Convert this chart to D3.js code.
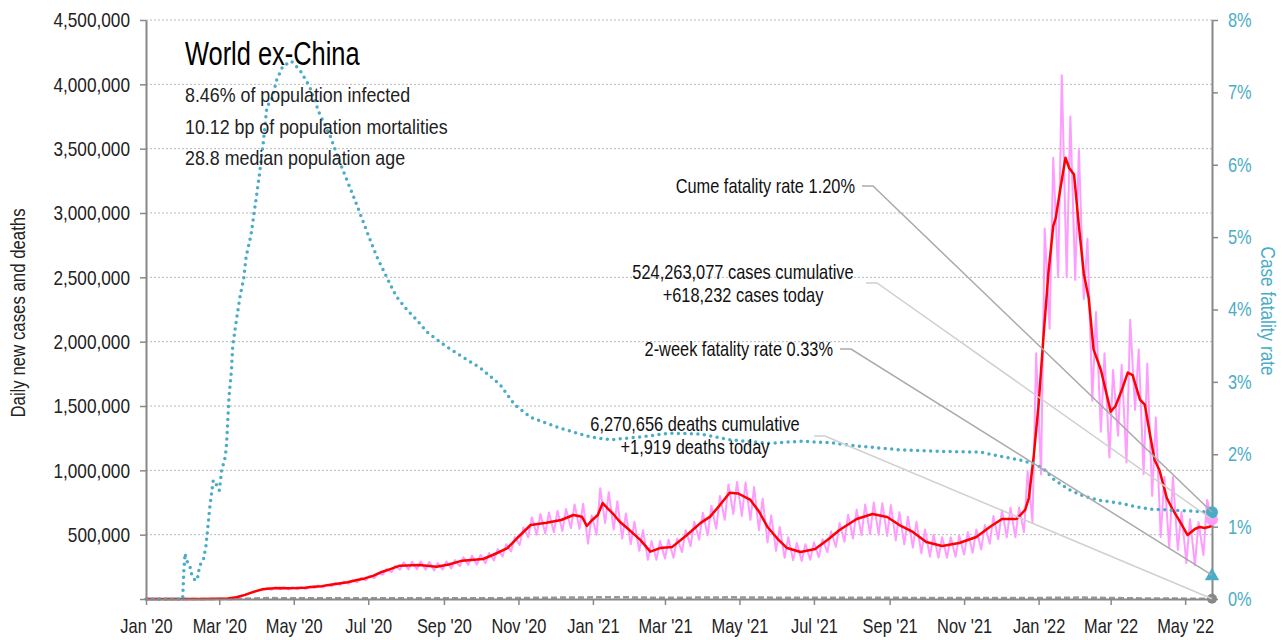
<!DOCTYPE html>
<html>
<head>
<meta charset="utf-8">
<script src="https://cdn.jsdelivr.net/npm/d3@7"></script>
<style>
    body { margin: 0; background: #fff; }
    svg text { font-family: "Liberation Sans", Arial, sans-serif; }
</style>
</head>
<body>
<script>
//Chart data

//7-day average of daily new cases (thousands)
var redAvg = [
    ["2020-01-01", 0], ["2020-02-15", 0.5], ["2020-03-01", 2], ["2020-03-08", 4], ["2020-03-15", 14],
    ["2020-03-22", 32], ["2020-03-29", 55], ["2020-04-05", 75], ["2020-04-12", 82], ["2020-04-19", 85],
    ["2020-04-26", 84], ["2020-05-03", 85], ["2020-05-10", 88], ["2020-05-17", 95], ["2020-05-24", 100],
    ["2020-05-31", 110], ["2020-06-07", 120], ["2020-06-14", 130], ["2020-06-21", 145], ["2020-06-28", 160],
    ["2020-07-05", 180], ["2020-07-12", 210], ["2020-07-19", 232], ["2020-07-27", 259], ["2020-08-12", 264],
    ["2020-08-26", 251], ["2020-09-05", 268], ["2020-09-16", 298], ["2020-10-03", 311], ["2020-10-11", 342],
    ["2020-10-23", 396], ["2020-10-31", 474], ["2020-11-11", 575], ["2020-11-24", 593], ["2020-12-06", 614],
    ["2020-12-16", 653], ["2020-12-23", 640], ["2020-12-27", 567], ["2020-12-31", 610], ["2021-01-05", 653],
    ["2021-01-09", 746], ["2021-01-13", 705], ["2021-01-17", 668], ["2021-01-23", 600], ["2021-01-29", 552],
    ["2021-02-04", 500], ["2021-02-09", 458], ["2021-02-17", 368], ["2021-02-25", 396], ["2021-03-07", 405],
    ["2021-03-19", 497], ["2021-03-30", 590], ["2021-04-07", 640], ["2021-04-15", 730], ["2021-04-23", 826],
    ["2021-04-30", 820], ["2021-05-10", 770], ["2021-05-17", 680], ["2021-05-24", 560], ["2021-06-01", 470],
    ["2021-06-09", 396], ["2021-06-20", 365], ["2021-07-02", 389], ["2021-07-12", 458], ["2021-07-22", 536],
    ["2021-08-05", 622], ["2021-08-18", 661], ["2021-08-30", 637], ["2021-09-09", 575], ["2021-09-20", 521],
    ["2021-10-01", 443], ["2021-10-14", 412], ["2021-10-28", 435], ["2021-11-11", 482], ["2021-11-22", 560],
    ["2021-12-02", 622], ["2021-12-14", 622], ["2021-12-21", 692], ["2021-12-24", 785], ["2021-12-28", 1110],
    ["2022-01-01", 1510], ["2022-01-05", 2040], ["2022-01-09", 2530], ["2022-01-13", 2900], ["2022-01-15", 2960],
    ["2022-01-19", 3200], ["2022-01-23", 3430], ["2022-01-26", 3350], ["2022-01-30", 3300], ["2022-02-03", 2900],
    ["2022-02-07", 2530], ["2022-02-11", 2340], ["2022-02-15", 1940], ["2022-02-21", 1780], ["2022-02-27", 1540],
    ["2022-03-01", 1456], ["2022-03-05", 1500], ["2022-03-10", 1620], ["2022-03-15", 1760], ["2022-03-19", 1740],
    ["2022-03-25", 1550], ["2022-03-29", 1510], ["2022-04-02", 1290], ["2022-04-06", 1080], ["2022-04-10", 1000],
    ["2022-04-16", 785], ["2022-04-21", 692], ["2022-04-27", 598], ["2022-05-03", 497], ["2022-05-09", 544],
    ["2022-05-13", 560], ["2022-05-17", 552], ["2022-05-23", 567]
];

//daily new cases (thousands): weekly low (Monday) and weekly high (Thursday), from the week of 6 Jan 2020
var pinkWeekStart = "2020-01-06";
var pinkLows = [
    0, 0, 0, 0, 0.1, 0.2, 0.3, 0.8,
    1.5, 4, 14, 32, 55, 68, 72, 75, 74, 76, 78, 85, 90, 98, 108, 118, 130, 145, 162, 188, 208, 228,
    230, 232, 228, 222, 228, 238, 255, 265, 268, 278, 300, 330, 370, 420, 480, 500, 510, 518, 528, 550,
    545, 430, 500, 590, 540, 470, 425, 375, 305, 305, 315, 320, 365, 410, 460, 495, 545, 615, 660, 645,
    615, 535, 440, 375, 320, 300, 295, 305, 325, 365, 405, 445, 470, 495, 505, 500, 490, 455, 425, 400,
    355, 330, 320, 320, 328, 345, 360, 385, 430, 465, 480, 480, 520, 598, 970, 2100, 2500, 2500, 2480, 2330,
    1540, 1300, 1100, 1270, 1060, 1470, 970, 800, 482, 396, 381, 280, 264, 342, 618
];
var pinkHighs = [
    0, 0, 0, 0, 0.2, 0.3, 0.5, 1.2,
    2.5, 7, 22, 45, 68, 85, 92, 92, 92, 94, 97, 105, 112, 124, 135, 146, 163, 180, 200, 232, 258, 285,
    290, 292, 288, 280, 292, 302, 325, 338, 342, 358, 388, 425, 480, 555, 635, 660, 672, 685, 700, 735,
    740, 650, 860, 830, 760, 665, 600, 535, 450, 450, 460, 470, 535, 600, 670, 725, 800, 890, 910, 905,
    870, 780, 650, 560, 480, 435, 425, 440, 465, 525, 590, 655, 695, 735, 750, 745, 730, 675, 640, 600,
    540, 500, 480, 480, 492, 520, 540, 575, 645, 690, 710, 712, 990, 1910, 2880, 3430, 4070, 3750, 3490, 2800,
    2230, 1910, 1780, 1820, 2170, 1940, 1830, 1410, 948, 948, 676, 622, 598, 770
];

//daily deaths (thousands)
var deaths = [
    ["2020-01-01", 0], ["2020-03-15", 1], ["2020-04-10", 7], ["2020-05-15", 5], ["2020-07-15", 5],
    ["2020-08-15", 6], ["2020-10-15", 6], ["2020-11-25", 10], ["2021-01-20", 14], ["2021-03-01", 9],
    ["2021-04-25", 13], ["2021-06-15", 9], ["2021-08-25", 10], ["2021-10-15", 7], ["2021-12-15", 7],
    ["2022-02-05", 11], ["2022-03-20", 5], ["2022-05-23", 1.919]
];

//cumulative case fatality rate (%)
var cfr = [
    ["2020-01-01", 0], ["2020-01-31", 0], ["2020-02-01", 0.4], ["2020-02-02", 0.63], ["2020-02-03", 0.54],
    ["2020-02-06", 0.45], ["2020-02-07", 0.36], ["2020-02-10", 0.26], ["2020-02-12", 0.26], ["2020-02-13", 0.38],
    ["2020-02-15", 0.5], ["2020-02-17", 0.54], ["2020-02-19", 0.72], ["2020-02-21", 1.05], ["2020-02-22", 1.23],
    ["2020-02-24", 1.5], ["2020-02-25", 1.63], ["2020-02-27", 1.63], ["2020-02-28", 1.55], ["2020-03-01", 1.5],
    ["2020-03-03", 1.78], ["2020-03-06", 1.97], ["2020-03-07", 2.15], ["2020-03-08", 2.47], ["2020-03-09", 2.8],
    ["2020-03-11", 3.16], ["2020-03-12", 3.49], ["2020-03-15", 3.85], ["2020-03-18", 4.18], ["2020-03-21", 4.43],
    ["2020-03-23", 4.73], ["2020-03-27", 5.03], ["2020-03-31", 5.51], ["2020-04-03", 5.88], ["2020-04-06", 6.3],
    ["2020-04-09", 6.8], ["2020-04-13", 6.9], ["2020-04-17", 7.17], ["2020-04-22", 7.36], ["2020-04-29", 7.43],
    ["2020-05-06", 7.31], ["2020-05-14", 7.08], ["2020-05-22", 6.71], ["2020-05-31", 6.39], ["2020-06-08", 6.02],
    ["2020-06-19", 5.56], ["2020-07-01", 5.03], ["2020-07-08", 4.73], ["2020-07-16", 4.45], ["2020-07-24", 4.18],
    ["2020-08-02", 3.99], ["2020-08-10", 3.85], ["2020-08-18", 3.69], ["2020-09-02", 3.5], ["2020-09-14", 3.37],
    ["2020-10-01", 3.19], ["2020-10-17", 2.96], ["2020-10-29", 2.68], ["2020-11-11", 2.51], ["2020-12-05", 2.36],
    ["2020-12-30", 2.24], ["2021-01-15", 2.2], ["2021-02-09", 2.24], ["2021-03-05", 2.29], ["2021-03-30", 2.28],
    ["2021-04-23", 2.2], ["2021-05-26", 2.15], ["2021-06-20", 2.18], ["2021-07-14", 2.16], ["2021-08-08", 2.11],
    ["2021-09-10", 2.06], ["2021-10-13", 2.04], ["2021-11-14", 2.03], ["2021-12-01", 1.97], ["2021-12-17", 1.92],
    ["2021-12-28", 1.87], ["2022-01-05", 1.8], ["2022-01-13", 1.66], ["2022-01-25", 1.52], ["2022-02-07", 1.42],
    ["2022-02-21", 1.36], ["2022-03-07", 1.33], ["2022-03-20", 1.28], ["2022-04-03", 1.24], ["2022-04-17", 1.23],
    ["2022-04-30", 1.22], ["2022-05-23", 1.2]
];

var twoWeekCfr = 0.33; //last value of the 2-week fatality rate (%)

//tick values
var leftTicks = [0, 500000, 1000000, 1500000, 2000000, 2500000, 3000000, 3500000, 4000000, 4500000];
var rightTicks = [0, 1, 2, 3, 4, 5, 6, 7, 8];

//texts
var title = "World ex-China";
var subtitles = ["8.46% of population infected", "10.12 bp of population mortalities", "28.8 median population age"];

//set up the svg dimensions and margins
var margin = {
        top: 20,
        right: 76,
        bottom: 41,
        left: 146
    },
    width = 1288 - margin.left - margin.right,
    height = 640 - margin.top - margin.bottom;

var blue = "#4bacc6";
var narrowX = 0.82; //squeeze Liberation Sans into a narrow face
var parse = d3.timeParse("%Y-%m-%d");

var svg = d3.select("body").append("svg")
    .attr("width", width + margin.left + margin.right)
    .attr("height", height + margin.top + margin.bottom)
    .append("g")
    .attr("transform", "translate(" + margin.left + "," + margin.top + ")");

//squeeze text horizontally, keeping its anchor point in place
function narrow(sel, sx) {
    sel.each(function() {
        var t = d3.select(this);
        var x = +t.attr("x") || 0;
        t.attr("x", x / sx);
        t.attr("transform", (t.attr("transform") || "") + " scale(" + sx + ",1)");
        t.selectAll("tspan").each(function() {
            var s = d3.select(this);
            if (s.attr("x") !== null) s.attr("x", +s.attr("x") / sx);
        });
    });
}

//scales
var firstDate = parse("2020-01-01");
var lastDate = parse(redAvg[redAvg.length - 1][0]);

var xScale = d3.scaleTime()
    .domain([firstDate, lastDate])
    .range([0, width]);

var yScale = d3.scaleLinear()
    .domain([0, 4500000])
    .range([height, 0]);

var yRight = d3.scaleLinear()
    .domain([0, 8])
    .range([height, 0]);

//build the daily cases zigzag from the weekly lows and highs
var pinkDaily = [];
var weekStart = parse(pinkWeekStart);
pinkLows.forEach(function(v, i) {
    var monday = d3.timeDay.offset(weekStart, 7 * i);
    pinkDaily.push([monday, v]);
    if (pinkHighs[i] !== undefined)
        pinkDaily.push([d3.timeDay.offset(monday, 3), pinkHighs[i]]);
});

//horizontal dotted grid
svg.append("g")
    .attr("class", "grid")
    .selectAll("line")
    .data(leftTicks.filter(function(t) { return t > 0; }))
    .enter().append("line")
    .attr("x1", 0)
    .attr("x2", width)
    .attr("y1", function(d) { return yScale(d); })
    .attr("y2", function(d) { return yScale(d); })
    .attr("stroke", "#b8b8b8")
    .attr("stroke-width", 1)
    .attr("stroke-dasharray", "2,2");

//line generators
var caseLine = d3.line()
    .x(function(d) { return xScale(d[0]); })
    .y(function(d) { return yScale(d[1] * 1000); });

var cfrLine = d3.line()
    .x(function(d) { return xScale(parse(d[0])); })
    .y(function(d) { return yRight(d[1]); });

var dated = function(arr) {
    return arr.map(function(d) { return [parse(d[0]), d[1]]; });
};

//deaths (grey dashed, hugging the bottom)
svg.append("path")
    .datum(dated(deaths))
    .attr("fill", "none")
    .attr("stroke", "#999")
    .attr("stroke-width", 2.5)
    .attr("stroke-dasharray", "6,3")
    .attr("d", caseLine);

//daily cases
svg.append("path")
    .datum(pinkDaily)
    .attr("fill", "none")
    .attr("stroke", "#ff9cff")
    .attr("stroke-width", 2)
    .attr("stroke-linejoin", "round")
    .attr("d", caseLine);

//7-day average
svg.append("path")
    .datum(dated(redAvg))
    .attr("fill", "none")
    .attr("stroke", "#ff0000")
    .attr("stroke-width", 2.5)
    .attr("stroke-linejoin", "round")
    .attr("d", caseLine);

//case fatality rate, dotted
svg.append("path")
    .datum(cfr)
    .attr("fill", "none")
    .attr("stroke", blue)
    .attr("stroke-width", 3.5)
    .attr("stroke-linecap", "round")
    .attr("stroke-dasharray", "0,6.5")
    .attr("d", cfrLine);

//axes
var fmt = d3.format(",");

var xAxis = svg.append("g")
    .attr("transform", "translate(0," + height + ")")
    .call(d3.axisBottom(xScale)
        .ticks(d3.timeMonth.every(2))
        .tickFormat(d3.timeFormat("%b '%y"))
        .tickSize(6)
        .tickSizeOuter(0)
        .tickPadding(14));

var yAxis = svg.append("g")
    .call(d3.axisLeft(yScale)
        .tickValues(leftTicks)
        .tickFormat(function(d) { return d === 0 ? "" : fmt(d); })
        .tickSize(6)
        .tickSizeOuter(0)
        .tickPadding(10));

var rAxis = svg.append("g")
    .attr("transform", "translate(" + width + ",0)")
    .call(d3.axisRight(yRight)
        .tickValues(rightTicks)
        .tickFormat(function(d) { return d + "%"; })
        .tickSize(6)
        .tickSizeOuter(0)
        .tickPadding(10));

[xAxis, yAxis, rAxis].forEach(function(a) {
    a.attr("font-family", null).attr("font-size", null);
    a.select(".domain").attr("stroke", "#888").attr("stroke-width", 2);
    a.selectAll(".tick line").attr("stroke", "#888").attr("stroke-width", 1.5);
    a.selectAll(".tick text").attr("font-size", 20).attr("fill", "#222");
    narrow(a.selectAll(".tick text"), narrowX);
});
yAxis.selectAll(".tick text").attr("font-size", 21);
rAxis.selectAll(".tick text").attr("fill", blue);

//axis titles
svg.append("text")
    .attr("transform", "rotate(-90)")
    .attr("x", -293)
    .attr("y", -121)
    .attr("text-anchor", "middle")
    .attr("font-size", 20.5)
    .attr("fill", "#222")
    .text("Daily new cases and deaths")
    .call(narrow, narrowX);

svg.append("text")
    .attr("transform", "translate(" + (width + 49) + ",291) rotate(90)")
    .attr("text-anchor", "middle")
    .attr("font-size", 21)
    .attr("fill", blue)
    .text("Case fatality rate")
    .call(narrow, narrowX);

//title block
svg.append("text")
    .attr("x", 39)
    .attr("y", 45)
    .attr("font-size", 33)
    .attr("fill", "#000")
    .text(title)
    .call(narrow, 0.77);

svg.selectAll(".sub")
    .data(subtitles)
    .enter().append("text")
    .attr("class", "sub")
    .attr("x", 39)
    .attr("y", function(d, i) { return 82 + i * 31.7; })
    .attr("font-size", 21)
    .attr("fill", "#222")
    .text(function(d) { return d; })
    .call(narrow, 0.85);

//end markers
var lastPink = pinkDaily[pinkDaily.length - 1];
var lastDeath = deaths[deaths.length - 1];
var lastCfr = cfr[cfr.length - 1];
var xEnd = xScale(lastDate);

svg.append("circle")
    .attr("cx", xEnd).attr("cy", yScale(lastPink[1] * 1000)).attr("r", 6)
    .attr("fill", "#ff9cff");
svg.append("circle")
    .attr("cx", xEnd).attr("cy", yRight(lastCfr[1])).attr("r", 6)
    .attr("fill", blue);
svg.append("path")
    .attr("d", d3.symbol(d3.symbolTriangle).size(90))
    .attr("transform", "translate(" + xEnd + "," + (yRight(twoWeekCfr) + 1) + ")")
    .attr("fill", blue);
svg.append("circle")
    .attr("cx", xEnd).attr("cy", yScale(lastDeath[1] * 1000)).attr("r", 5)
    .attr("fill", "#888");

//annotations with leader lines to the end markers
var annotations = [
    {lines: ["Cume fatality rate 1.20%"], anchor: "end", tx: 709, ty: 173, lx: 716, ly: 166,
        endY: yRight(lastCfr[1]), color: "#aaa"},
    {lines: ["524,263,077 cases cumulative", "+618,232 cases today"], anchor: "middle", tx: 597, ty: 259, lx: 720, ly: 263,
        endY: yScale(lastPink[1] * 1000), color: "#d0d0d0"},
    {lines: ["2-week fatality rate 0.33%"], anchor: "end", tx: 687, ty: 336, lx: 694, ly: 329,
        endY: yRight(twoWeekCfr), color: "#aaa"},
    {lines: ["6,270,656 deaths cumulative", "+1,919 deaths today"], anchor: "middle", tx: 549, ty: 411, lx: 668, ly: 416,
        endY: yScale(lastDeath[1] * 1000), color: "#d0d0d0"}
];

annotations.forEach(function(a) {
    svg.append("path")
        .attr("d", d3.line()([[a.lx, a.ly], [a.lx + 11, a.ly], [xEnd, a.endY]]))
        .attr("fill", "none")
        .attr("stroke", a.color)
        .attr("stroke-width", 1.5);

    svg.append("text")
        .attr("x", a.tx)
        .attr("y", a.ty)
        .attr("text-anchor", a.anchor)
        .attr("font-size", 20)
        .attr("fill", "#111")
        .selectAll("tspan")
        .data(a.lines)
        .enter().append("tspan")
        .attr("x", a.tx)
        .attr("dy", function(d, i) { return i === 0 ? 0 : 23.5; })
        .text(function(d) { return d; });
});
narrow(svg.selectAll("text").filter(function() { return this.firstChild && this.firstChild.nodeName === "tspan"; }), narrowX);
</script>
</body>
</html>
